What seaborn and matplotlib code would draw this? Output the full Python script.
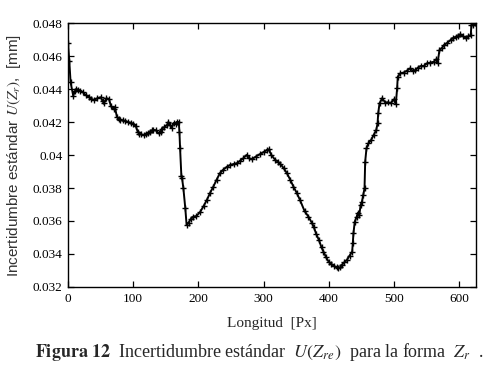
import numpy as np
import pandas as pd
import matplotlib
matplotlib.use("Agg")
import matplotlib.pyplot as plt
from matplotlib.ticker import FuncFormatter, MultipleLocator
import seaborn as sns

# --- data ---
longitud = [0, 2, 4, 8, 11, 13, 16, 19, 23, 27, 32, 36, 40, 45, 50, 53, 55, 59, 63, 66,
            70, 72, 75, 78, 80, 84, 88, 92, 96, 100, 104, 107, 109, 112, 116, 120, 123, 126, 129, 131,
            135, 139, 142, 144, 148, 152, 154, 157, 159, 162, 165, 167, 170, 171, 172, 174, 175, 177, 180, 182,
            185, 188, 192, 197, 203, 208, 213, 218, 223, 228, 233, 238, 244, 249, 254, 259, 264, 269, 274, 278,
            282, 288, 295, 301, 305, 308, 312, 318, 322, 326, 331, 336, 341, 346, 351, 356, 363, 369, 374, 377,
            381, 385, 389, 392, 396, 400, 404, 408, 412, 415, 418, 420, 424, 428, 432, 436, 437, 438, 440, 443,
            445, 447, 449, 451, 453, 455, 456, 458, 461, 465, 469, 473, 475, 476, 478, 482, 487, 491, 495, 500,
            503, 505, 506, 510, 515, 520, 525, 529, 533, 537, 541, 546, 551, 556, 561, 565, 567, 570, 574, 577,
            582, 587, 591, 595, 598, 602, 606, 610, 614, 618, 619, 622, 625]
incertidumbre = [0.0468, 0.0457, 0.0444, 0.0436, 0.0439, 0.0440, 0.04395, 0.0439, 0.0438, 0.04364, 0.04353, 0.0434, 0.04333, 0.04344, 0.0435, 0.0433, 0.04313, 0.04344, 0.04338, 0.04295,
                 0.04277, 0.0429, 0.04232, 0.0422, 0.04212, 0.0421, 0.04206, 0.0420, 0.04196, 0.0419, 0.04176, 0.0414, 0.0413, 0.04125, 0.0412, 0.0413, 0.04135, 0.0414, 0.0415, 0.04152,
                 0.0415, 0.04131, 0.0414, 0.0416, 0.0417, 0.04182, 0.0420, 0.0418, 0.04164, 0.04194, 0.0419, 0.0420, 0.0420, 0.0414, 0.0404, 0.0387, 0.0386, 0.0380, 0.03677, 0.03576,
                 0.0359, 0.0361, 0.03626, 0.0363, 0.03656, 0.0369, 0.03727, 0.0377, 0.03808, 0.0385, 0.03889, 0.0391, 0.03929, 0.0394, 0.03945, 0.0395, 0.03965, 0.0398, 0.0400, 0.0398,
                 0.03974, 0.0399, 0.04006, 0.0402, 0.0403, 0.04034, 0.0400, 0.0397, 0.0396, 0.03945, 0.0392, 0.03889, 0.0385, 0.03808, 0.0377, 0.03727, 0.0366, 0.03626, 0.0359, 0.03565,
                 0.0352, 0.03485, 0.0344, 0.03414, 0.0338, 0.03353, 0.0334, 0.03327, 0.0332, 0.03313, 0.0332, 0.03333, 0.0335, 0.03364, 0.0339, 0.03414, 0.03465, 0.03525, 0.03596, 0.03626,
                 0.0365, 0.03636, 0.03697, 0.03717, 0.03758, 0.03798, 0.0396, 0.0404, 0.04071, 0.0409, 0.04121, 0.04152, 0.04192, 0.04253, 0.04313, 0.04344, 0.04317, 0.0432, 0.04313, 0.04337,
                 0.04309, 0.04404, 0.04475, 0.04495, 0.0450, 0.04511, 0.04525, 0.0451, 0.04515, 0.0453, 0.04539, 0.0454, 0.04556, 0.0456, 0.04565, 0.0458, 0.04556, 0.04636, 0.0465, 0.04667,
                 0.0468, 0.04697, 0.0471, 0.04717, 0.0472, 0.04732, 0.0472, 0.04707, 0.0472, 0.04727, 0.04788, 0.0479, 0.04798]

x_ticks = [0, 100, 200, 300, 400, 500, 600]
y_ticks = [0.032, 0.034, 0.036, 0.038, 0.040, 0.042, 0.044, 0.046, 0.048]

df = pd.DataFrame({"Longitud": longitud, "U": incertidumbre})

sns.set_style("ticks")
plt.rcParams["mathtext.fontset"] = "stix"
plt.rcParams["font.family"] = ["Liberation Serif", "DejaVu Serif"]

fig = plt.figure(figsize=(4.97, 3.67), dpi=100)
ax = fig.add_axes([0.1368, 0.218, 0.8209, 0.7193])

sns.lineplot(data=df, x="Longitud", y="U", ax=ax, color="black", linewidth=1.4,
             marker="+", markersize=4, markeredgewidth=1.0, markeredgecolor="black")

ax.set_xlim(0, 626)
ax.set_ylim(0.032, 0.048)
ax.set_xticks(x_ticks)
ax.set_yticks(y_ticks)
ax.yaxis.set_major_formatter(FuncFormatter(lambda v, p: f"{v:g}"))
ax.tick_params(direction="in", length=4, width=0.9, top=True, right=True,
               labelsize=9.5, colors="black", pad=4)
for s in ax.spines.values():
    s.set_linewidth(1.0)
    s.set_color("black")

ax.set_xlabel("Longitud  [Px]", fontsize=11, labelpad=9)
ax.set_ylabel(r"Incertidumbre estándar $U(Z_r)$,  [mm]", fontsize=11,
              family=["Liberation Sans", "DejaVu Sans"], color="#333333", labelpad=7)

fig.text(0.07, 0.04, r"$\mathbf{Figura\ 12}$  Incertidumbre estándar  $U\left(Z_{re}\right)$  para la forma  $Z_r$  .",
         fontsize=13, ha="left", va="center")

fig.savefig("out.png", dpi=100)
